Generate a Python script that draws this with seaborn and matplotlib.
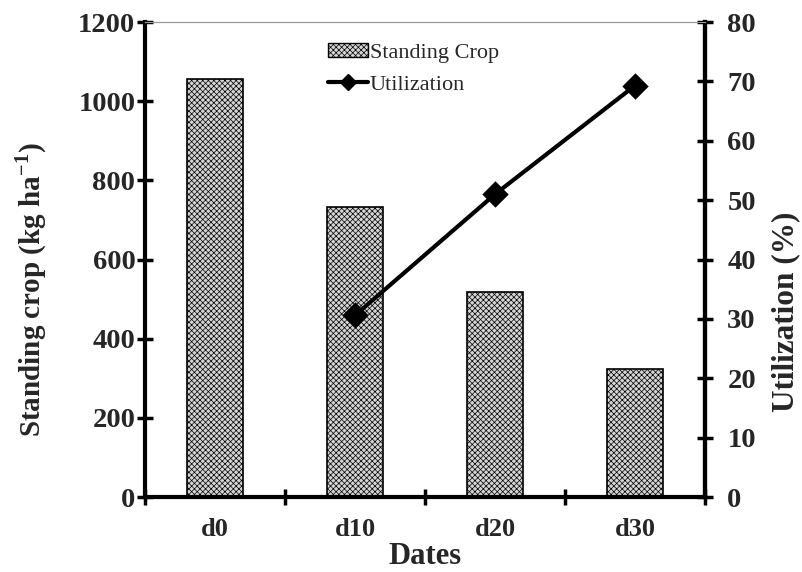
import numpy as np
import pandas as pd
import matplotlib
matplotlib.use("Agg")
import matplotlib.pyplot as plt
import seaborn as sns
from matplotlib.patches import Patch
from matplotlib.lines import Line2D

# Data
dates = ["d0", "d10", "d20", "d30"]
standing_crop = [1057, 733, 517, 323]
util_dates = ["d10", "d20", "d30"]
utilization = [30.6, 51.0, 69.3]

sns.set_theme(style="white")
plt.rcParams['font.family'] = ['Liberation Serif', 'DejaVu Serif']
plt.rcParams['mathtext.fontset'] = 'custom'
plt.rcParams['mathtext.rm'] = 'Liberation Serif:bold'
plt.rcParams['mathtext.bf'] = 'Liberation Serif:bold'
plt.rcParams['hatch.color'] = '#adadad'
plt.rcParams['hatch.linewidth'] = 0.5

crop_df = pd.DataFrame({"Date": dates, "Crop": standing_crop})
util_df = pd.DataFrame({"Date": util_dates, "Util": utilization})

bar_color = "#d4d4d4"

fig = plt.figure(figsize=(8.03, 5.72), dpi=100)
ax = fig.add_axes([0.1806, 0.1311, 0.6974, 0.8304])

sns.barplot(data=crop_df, x="Date", y="Crop", order=dates, ax=ax,
            color=bar_color, width=0.4, edgecolor="black", linewidth=1.2,
            hatch="xxxxxx", saturation=1)

ax2 = ax.twinx()
sns.pointplot(data=util_df, x="Date", y="Util", order=dates, ax=ax2,
              color="black", markers="D", markersize=11, linewidth=3,
              errorbar=None)

# Axis limits and ticks
ax.set_xlim(-0.5, 3.5)
ax.set_ylim(0, 1200)
ax2.set_ylim(0, 80)
ax.set_yticks(np.arange(0, 1201, 200))
ax2.set_yticks(np.arange(0, 81, 10))

ax.set_xticks(np.arange(-0.5, 3.6, 1.0))
ax.set_xticklabels([])
ax.set_xticks(np.arange(len(dates)), minor=True)
ax.set_xticklabels(dates, minor=True)

bold = dict(fontweight="bold")
ax.tick_params(axis="x", which="major", direction="inout", length=12, width=2.5,
               color="black", bottom=True)
ax.tick_params(axis="x", which="minor", length=0, labelsize=19, pad=15)
ax.tick_params(axis="y", direction="inout", length=12, width=2.5, color="black",
               left=True, labelsize=20.5, pad=1)
ax2.tick_params(axis="y", direction="inout", length=12, width=2.5, color="black",
                right=True, labelsize=20.5, pad=10)
for lab in ax.get_xticklabels(minor=True) + ax.get_yticklabels() + ax2.get_yticklabels():
    lab.set_fontweight("bold")

ax.set_xlabel("Dates", fontsize=22, labelpad=1, **bold)
ax.set_ylabel("Standing crop (kg ha$^{\\mathbf{-1}}$)", fontsize=21, **bold)
ax.yaxis.set_label_coords(-0.172, 0.436)
ax2.set_ylabel("Utilization (%)", fontsize=22.5, rotation=90, **bold)
ax2.yaxis.set_label_coords(1.118, 0.39)
ax2.set_xlabel("")

for a in (ax, ax2):
    for side in ("left", "right", "bottom"):
        a.spines[side].set_linewidth(3)
        a.spines[side].set_color("black")
    a.spines["top"].set_linewidth(0.8)
    a.spines["top"].set_color("#9a9a9a")
ax2.spines["left"].set_visible(False)
ax2.spines["bottom"].set_visible(False)

handles = [
    Patch(facecolor=bar_color, edgecolor="black", hatch="xxxxxx", linewidth=1),
    Line2D([0], [0], color="black", linewidth=3, marker="D", markersize=8),
]
ax2.legend(handles, ["Standing Crop", "Utilization"], loc="upper left",
           bbox_to_anchor=(0.31, 0.975), frameon=False, fontsize=16,
           handlelength=1.8, handleheight=0.6, handletextpad=0.1,
           labelspacing=0.55, borderaxespad=0)

fig.savefig("out.png", dpi=100)
